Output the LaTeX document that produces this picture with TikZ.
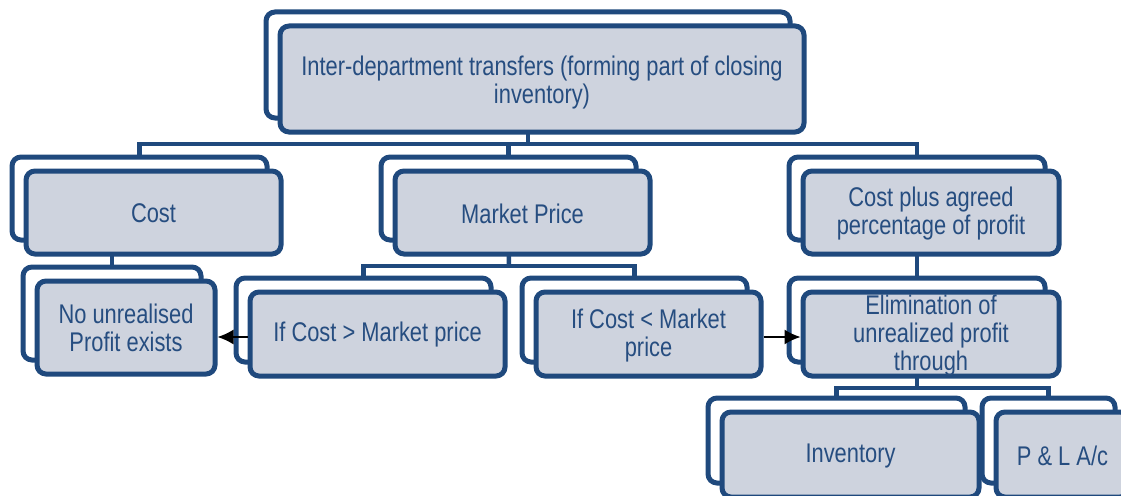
\documentclass[tikz,border=0pt]{standalone}
\usepackage{fontspec}
\setmainfont{Liberation Sans}[FakeStretch=0.81]
\usetikzlibrary{arrows.meta,calc,backgrounds}
\definecolor{dblue}{RGB}{31,73,125}
\definecolor{tblue}{RGB}{38,77,128}
\definecolor{boxfill}{RGB}{206,211,222}
\tikzset{
  backbox/.style={draw=dblue, line width=5pt, fill=white, rounded corners=9pt, inner sep=0pt},
  frontbox/.style={draw=dblue, line width=5pt, fill=boxfill, rounded corners=9pt, inner sep=0pt},
  txt/.style={text=tblue, align=center, inner sep=0pt, font=\fontsize{27pt}{28pt}\selectfont},
  conn/.style={draw=dblue, line width=4.5pt},
  arr/.style={draw=black, line width=1.6pt, -{Latex[length=16pt,width=15pt]}}
}
% name, x1, y1, x2, y2 (back box), text, text shift
\newcommand\twobox[7]{%
  \node[backbox, minimum width={#4-#2}, minimum height={#5-#3}] (#1b) at ({(#2+#4)/2},{(#3+#5)/2}) {};
  \node[frontbox, minimum width={#4-#2}, minimum height={#5-#3}] (#1) at ({(#2+#4)/2+14},{(#3+#5)/2+14}) {};
  \node[txt] (#1t) at ($(#1.center)+(0,#7)$) {#6};
}
\begin{document}
\begin{tikzpicture}[x=1pt,y=-1pt]
\useasboundingbox (0,0) rectangle (1121,495);
\clip (0,0) rectangle (1121,495);
% junction points of the connectors
\coordinate (j1) at (528,144);
\coordinate (j2) at (509,266);
\coordinate (j3) at (917,388);
% boxes
\twobox{top}{266}{12}{790}{118}{Inter-department transfers (forming part of closing\\inventory)}{4}
\twobox{cost}{12}{157}{267}{240}{Cost}{1}
\twobox{mkt}{381}{157}{636}{240}{Market Price}{1}
\twobox{plus}{789}{157}{1045}{240}{Cost plus agreed\\percentage of profit}{1.5}
\twobox{nu}{23}{267}{201}{360}{No unrealised\\Profit exists}{0}
\twobox{gt}{236}{278}{491}{362}{If Cost > Market price}{1}
\twobox{lt}{522}{278}{747}{362}{If Cost < Market\\price}{1.5}
\twobox{elim}{789}{278}{1045}{362}{Elimination of\\unrealized profit\\through}{1.5}
\twobox{inv}{708}{398}{965}{483}{Inventory}{1.5}
\twobox{pl}{982}{398}{1115}{483}{P \& L A/c}{1.5}
% connectors (behind the boxes)
\begin{scope}[on background layer]
  \draw[conn] (topb.south) -- (j1);
  \draw[conn] (costb.north) |- (j1) -| (plusb.north);
  \draw[conn] (mktb.north) -- (mktb.north |- j1);
  \draw[conn] (mktb.south) -- (j2);
  \draw[conn] (gtb.north) |- (j2) -| (ltb.north);
  \draw[conn] (nub.north) -- (nub.north |- costb.south);
  \draw[conn] (plusb.south) -- (elimb.north);
  \draw[conn] (elimb.south) -- (j3);
  \draw[conn] (invb.north) |- (j3) -| (plb.north);
\end{scope}
% arrows
\coordinate (a1) at ($(gt.west)+(0,3)$);
\coordinate (a2) at ($(lt.east)+(0,3)$);
\draw[arr] (a1) -- (a1 -| nu.east);
\draw[arr] (a2) -- (a2 -| elim.west);
\end{tikzpicture}
\end{document}
